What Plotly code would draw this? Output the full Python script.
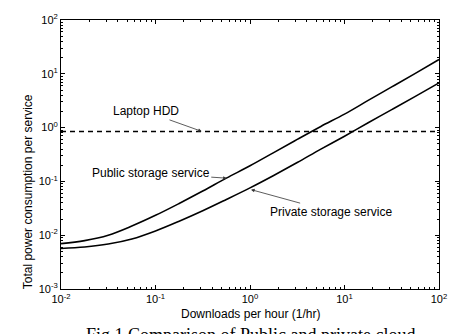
import plotly.graph_objects as go

downloads = [0.01, 0.0178, 0.0316, 0.0562, 0.1, 0.178, 0.316, 0.562, 1.0,
             1.78, 3.16, 5.62, 10.0, 17.8, 31.6, 56.2, 100.0]
public_power = [0.00697, 0.00794, 0.0100, 0.0148, 0.0234, 0.0389, 0.0661, 0.115, 0.195,
                0.343, 0.603, 1.05, 1.78, 3.20, 5.71, 10.2, 18.4]
private_power = [0.00566, 0.00603, 0.00684, 0.00851, 0.0120, 0.0182, 0.0285, 0.0462, 0.0759,
                 0.129, 0.224, 0.398, 0.692, 1.23, 2.16, 3.80, 6.76]
hdd_x = [0.01, 100.0]
hdd_power = [0.85, 0.85]

x_tick_vals = [0.01, 0.1, 1, 10, 100]
x_tick_text = ["10<sup>-2</sup>", "10<sup>-1</sup>", "10<sup>0</sup>", "10<sup>1</sup>", "10<sup>2</sup>"]
y_tick_vals = [0.001, 0.01, 0.1, 1, 10, 100]
y_tick_text = ["10<sup>-3</sup>", "10<sup>-2</sup>", "10<sup>-1</sup>", "10<sup>0</sup>", "10<sup>1</sup>", "10<sup>2</sup>"]

FONT = "Liberation Sans, Arial, sans-serif"

fig = go.Figure()
fig.add_trace(go.Scatter(x=downloads, y=public_power, mode="lines",
                         line=dict(color="black", width=1.6, shape="spline", smoothing=1.0),
                         showlegend=False))
fig.add_trace(go.Scatter(x=downloads, y=private_power, mode="lines",
                         line=dict(color="black", width=1.6, shape="spline", smoothing=1.0),
                         showlegend=False))
fig.add_trace(go.Scatter(x=hdd_x, y=hdd_power, mode="lines",
                         line=dict(color="black", width=1.5, dash="5px,4px"),
                         showlegend=False))

axis_common = dict(
    type="log", showgrid=False, zeroline=False,
    showline=True, linecolor="black", linewidth=1, mirror="allticks",
    ticks="inside", ticklen=4, tickcolor="black", tickwidth=1,
    minor=dict(ticks="inside", ticklen=2, tickcolor="black", dtick="D1", showgrid=False),
    tickfont=dict(family=FONT, size=11, color="black"),
    tickmode="array",
)

fig.update_xaxes(range=[-2, 2], tickvals=x_tick_vals, ticktext=x_tick_text, **axis_common)
fig.update_yaxes(range=[-3, 2], tickvals=y_tick_vals, ticktext=y_tick_text, **axis_common)

ann_font = dict(family=FONT, size=12, color="black")
arrow = dict(showarrow=True, arrowhead=2, arrowsize=0.9, arrowwidth=0.8, arrowcolor="#333")

fig.add_annotation(x=-0.511, y=-0.07, text="Laptop HDD", ax=-56, ay=-20,
                   font=ann_font, **arrow)
fig.add_annotation(x=-0.246, y=-0.94, text="Public storage service", ax=-76, ay=-5,
                   font=ann_font, **arrow)
fig.add_annotation(x=0.011, y=-1.153, text="Private storage service", ax=80, ay=22,
                   font=ann_font, **arrow)

fig.add_annotation(xref="paper", yref="paper", x=0.5, y=-0.094, yanchor="middle",
                   text="Downloads per hour (1/hr)", showarrow=False,
                   font=dict(family=FONT, size=12, color="black"))
fig.add_annotation(xref="paper", yref="paper", x=-0.087, y=0.36, textangle=-90,
                   xanchor="center", yanchor="middle",
                   text="Total power consumption per service", showarrow=False,
                   font=dict(family=FONT, size=12, color="black"))
fig.add_annotation(xref="paper", yref="paper", x=0.5, y=-0.126, yanchor="top",
                   text="Fig.1 Comparison of Public and private cloud", showarrow=False,
                   font=dict(family="Liberation Serif, Times New Roman, serif", size=18, color="black"))

fig.update_layout(width=465, height=334, margin=dict(l=61, r=26, t=12, b=45),
                  plot_bgcolor="white", paper_bgcolor="white",
                  font=dict(family=FONT, color="black"))

fig.write_html("out.html")
